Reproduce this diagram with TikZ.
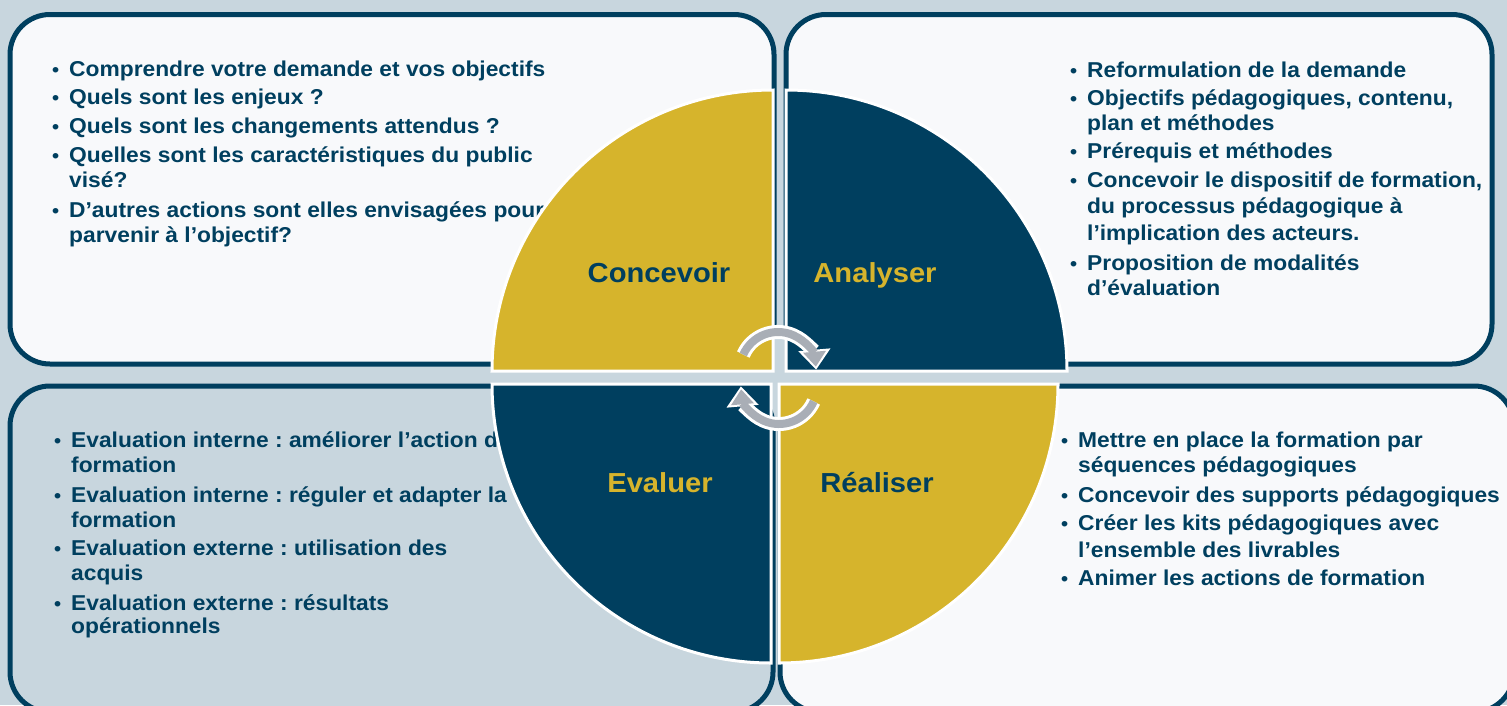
\documentclass[tikz,border=0pt]{standalone}
\usepackage{fontspec}
\setmainfont{Liberation Sans}[FakeStretch=1.06]
\usepackage{tikz}
\usetikzlibrary{positioning, calc, arrows.meta}

\definecolor{navy}{HTML}{003F5F}
\definecolor{gold}{HTML}{D6B42C}
\definecolor{paper}{HTML}{F8F9FB}
\definecolor{haze}{HTML}{C8D6DE}
\definecolor{arrowgray}{HTML}{A9AEB6}

\frenchspacing
\newcommand{\itm}{\llap{\fontsize{19}{19}\selectfont\textbullet\hspace{10pt}}}

\tikzset{
	panel/.style={draw=navy, line width=5pt, rounded corners=40pt},
	point/.style={anchor=base west, inner sep=0pt, text=navy, font=\fontsize{21.5}{25}\selectfont\bfseries},
	quarter/.style={draw=white, line width=3pt},
	phase/.style={anchor=base, inner sep=0pt, font=\fontsize{27.5}{30}\selectfont\bfseries},
	loopback/.style={line width=14pt, white, -{Triangle[length=20pt, width=31pt]}, shorten >=-3pt},
	loopfront/.style={line width=8pt, arrowgray, -{Triangle[length=15pt, width=22pt]}}
}

\begin{document}
\begin{tikzpicture}[x=1pt, y=-1pt]
\useasboundingbox (0, 0) rectangle (1507, 705);
\clip (0, 0) rectangle (1507, 705);
\fill[haze] (0, 0) rectangle (1507, 705);

\draw[panel, fill=paper] (10, 14.5) rectangle (774, 364);
\draw[panel, fill=paper] (786, 14.5) rectangle (1492, 364);
\draw[panel, fill=haze] (10, 386) rectangle (773, 712);
\draw[panel, fill=paper] (780, 386) rectangle (1514, 712);

\foreach \y/\t [count=\i] in {76/\itm Comprendre votre demande et vos objectifs,
		104/\itm Quels sont les enjeux ?, 133/\itm Quels sont les changements attendus ?,
		162/\itm Quelles sont les caractéristiques du public, 187/visé?,
		217/\itm D’autres actions sont elles envisagées pour, 242/parvenir à l’objectif?}
	\node[point] (conc\i) at (69, \y) {\t};
\foreach \y/\t [count=\i] in {77/\itm Reformulation de la demande,
		105/{\itm Objectifs pédagogiques, contenu,}, 130/plan et méthodes,
		158/\itm Prérequis et méthodes, 187/{\itm Concevoir le dispositif de formation,},
		213/du processus pédagogique à, 240/l’implication des acteurs.,
		270/\itm Proposition de modalités, 295/d’évaluation}
	\node[point] (anal\i) at (1087, \y) {\t};
\foreach \y/\t [count=\i] in {447/\itm Evaluation interne : améliorer l’action de, 472/formation,
		502/\itm Evaluation interne : réguler et adapter la, 527/formation,
		555/\itm Evaluation externe : utilisation des, 580/acquis,
		610/\itm Evaluation externe : résultats, 633/opérationnels}
	\node[point] (eval\i) at (71, \y) {\t};
\foreach \y/\t [count=\i] in {447/\itm Mettre en place la formation par, 472/séquences pédagogiques,
		502/\itm Concevoir des supports pédagogiques, 530/\itm Créer les kits pédagogiques avec,
		557/l’ensemble des livrables, 585/\itm Animer les actions de formation}
	\node[point] (real\i) at (1078, \y) {\t};

\draw[quarter, fill=gold] (773, 371) -- ++(-281, 0) arc[start angle=180, end angle=270, radius=281] -- cycle;
\draw[quarter, fill=navy] (786, 371) -- ++(0, -281) arc[start angle=270, end angle=360, radius=281] -- cycle;
\draw[quarter, fill=gold] (779, 384) -- ++(279, 0) arc[start angle=0, end angle=90, radius=279] -- cycle;
\draw[quarter, fill=navy] (771, 384) -- ++(0, 279) arc[start angle=90, end angle=180, radius=279] -- cycle;

\node[phase, text=navy] (concevoir) at (659, 282) {Concevoir};
\node[phase, text=gold] (analyser) at (875, 282) {Analyser};
\node[phase, text=gold] (evaluer) at (660, 492) {Evaluer};
\node[phase, text=navy] (realiser) at (877, 492) {Réaliser};

\coordinate (hubtop) at (778, 370);
\coordinate (hubbot) at (779, 386);
\draw[loopback] ($(hubtop)+(-156:38)$) arc[start angle=-156, end angle=-5, radius=38];
\draw[loopback] ($(hubbot)+(24:38)$) arc[start angle=24, end angle=175, radius=38];
\draw[loopfront] ($(hubtop)+(-156:38)$) arc[start angle=-156, end angle=-5, radius=38];
\draw[loopfront] ($(hubbot)+(24:38)$) arc[start angle=24, end angle=175, radius=38];
\end{tikzpicture}
\end{document}
